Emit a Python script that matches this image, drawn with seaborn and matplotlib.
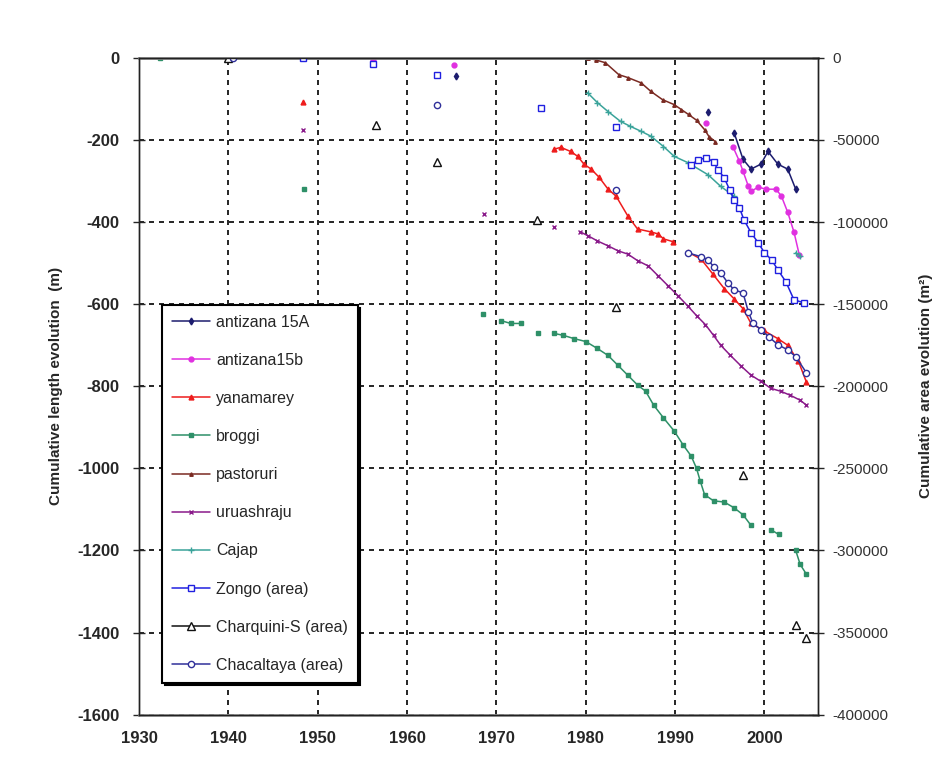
import numpy as np
import pandas as pd
import matplotlib.pyplot as plt
import seaborn as sns
from matplotlib.lines import Line2D
from matplotlib.ticker import FuncFormatter

nan = np.nan

# --- data (nan = gap in the series) ---
antizana15a_years = [1965.5, nan, 1993.7, nan, 1996.6, 1997.6, 1998.5, 1999.6, 2000.4, 2001.5, 2002.6, 2003.5]
antizana15a_vals = [-45, nan, -133, nan, -182, -247, -271, -259, -228, -259, -271, -320]

antizana15b_years = [1956.2, nan, 1965.2, nan, 1993.5, nan, 1996.5, 1997.2, 1997.6, 1998.2, 1998.5, 1999.3,
                     2000.2, 2001.3, 2001.9, 2002.6, 2003.3, 2003.9]
antizana15b_vals = [-5, nan, -17, nan, -158, nan, -218, -252, -276, -313, -325, -315,
                    -320, -320, -337, -376, -424, -480]

yanamarey_years = [1948.3, nan, 1976.4, 1977.2, 1978.3, 1979.1, 1979.8, 1980.6, 1981.5, 1982.5, 1983.4,
                   1984.7, 1985.8, 1987.3, 1988.1, 1988.7, 1989.8, nan, 1991.4, 1992.9, 1994.2, 1995.5,
                   1996.6, 1997.6, 1998.5, 1999.9, 2001.5, 2002.6, 2003.8, 2004.7]
yanamarey_vals = [-107, nan, -223, -218, -228, -240, -259, -271, -291, -320, -337,
                  -385, -417, -424, -429, -441, -448, nan, -473, -490, -526, -562,
                  -587, -611, -647, -664, -684, -700, -739, -790]

broggi_years = [1932.3, nan, 1948.5, nan, 1968.5, nan, 1970.5, 1971.6, 1972.7, nan, 1974.7, nan,
                1976.4, 1977.5, 1978.7, 1980.0, 1981.3, 1982.5, 1983.6, 1984.7, 1985.8, 1986.7,
                1987.6, 1988.7, 1989.9, 1990.9, 1991.8, 1992.4, 1992.8, 1993.3, 1994.3, 1995.5,
                1996.6, 1997.6, 1998.5, nan, 2000.7, 2001.6, nan, 2003.5, 2004.0, 2004.7]
broggi_vals = [0, nan, -320, nan, -623, nan, -640, -647, -647, nan, -671, nan,
               -671, -676, -684, -691, -708, -725, -749, -773, -797, -812,
               -846, -877, -909, -943, -970, -1000, -1030, -1064, -1079, -1082,
               -1096, -1113, -1139, nan, -1149, -1161, nan, -1200, -1234, -1258]

pastoruri_years = [1980.2, 1981.1, 1982.2, 1983.7, 1984.7, 1986.2, 1987.3, 1988.6, 1989.9, 1990.7,
                   1991.5, 1992.4, 1993.3, 1993.8, 1994.5]
pastoruri_vals = [0, -5, -12, -41, -48, -61, -82, -102, -114, -126, -138, -152, -175, -192, -204]

uruashraju_years = [1948.3, nan, 1968.6, nan, 1974.5, nan, 1976.4, nan, 1979.4, 1980.3, 1981.3, 1982.5,
                    1983.6, 1984.7, 1985.8, 1987.0, 1988.1, 1989.2, 1990.3, 1991.4, 1992.4, 1993.4,
                    1994.3, 1995.1, 1996.2, 1997.4, 1998.5, 1999.6, 2000.7, 2001.8, 2002.9, 2004.0, 2004.7]
uruashraju_vals = [-175, nan, -380, nan, -400, nan, -412, nan, -424, -434, -446, -458,
                   -470, -478, -494, -507, -531, -555, -579, -604, -628, -650,
                   -676, -700, -725, -751, -773, -788, -805, -812, -822, -834, -846]

cajap_years = [1980.2, 1981.3, 1982.5, 1983.9, 1985.0, 1986.2, 1987.3, 1988.7, 1989.9, 1991.4,
               1993.7, 1995.1, 1996.6, nan, 2003.5, 2004.0]
cajap_vals = [-85, -109, -131, -155, -167, -179, -191, -216, -240, -255,
              -285, -313, -337, nan, -475, -482]

zongo_years = [1948.3, nan, 1956.2, nan, 1963.4, nan, 1975.0, nan, 1983.4, nan, 1991.8, 1992.6,
               1993.5, 1994.3, 1994.8, 1995.5, 1996.1, 1996.6, 1997.2, 1997.7, 1998.5, 1999.3,
               2000.0, 2000.8, 2001.5, 2002.4, 2003.3, 2004.4]
zongo_vals = [0, nan, -4000, nan, -10300, nan, -30400, nan, -42000, nan, -65100, -62100,
              -60900, -63300, -68200, -73000, -80400, -86500, -91300, -98600, -106500, -112600,
              -118700, -123000, -129100, -136400, -147300, -149200]

charquini_years = [1940.0, nan, 1956.5, nan, 1963.4, nan, 1974.5, nan, 1983.4, nan, 1997.6, nan, 2003.5, nan, 2004.7]
charquini_vals = [0, nan, -40800, nan, -63300, nan, -98600, nan, -151600, nan, -253900, nan, -345200, nan, -353100]

chacaltaya_years = [1940.5, nan, 1963.4, nan, 1983.4, nan, 1991.4, 1992.9, 1993.7, 1994.3, 1995.1,
                    1995.9, 1996.6, 1997.6, 1998.2, 1998.7, 1999.6, 2000.5, 2001.5, 2002.6, 2003.5, 2004.7]
chacaltaya_vals = [0, nan, -28600, nan, -80400, nan, -118700, -121100, -123000, -127200, -130900,
                   -137000, -141300, -143100, -154700, -161400, -165600, -169900, -174700, -177800,
                   -182000, -191800]

x_ticks = [1930, 1940, 1950, 1960, 1970, 1980, 1990, 2000]
left_ticks = list(range(-1600, 1, 200))
right_ticks = list(range(-400000, 1, 50000))

# (label, years, values, axis, color, marker, markerfacecolor, markersize)
series = [
    ("antizana 15A", antizana15a_years, antizana15a_vals, "left", "#1c1c6e", "d", None, 3.5),
    ("antizana15b", antizana15b_years, antizana15b_vals, "left", "#e030e0", "o", None, 3.5),
    ("yanamarey", yanamarey_years, yanamarey_vals, "left", "#ee1c1c", "^", None, 3.5),
    ("broggi", broggi_years, broggi_vals, "left", "#2e9068", "s", None, 3.5),
    ("pastoruri", pastoruri_years, pastoruri_vals, "left", "#7a2a22", "^", None, 2.5),
    ("uruashraju", uruashraju_years, uruashraju_vals, "left", "#8a1a8a", "x", None, 3.5),
    ("Cajap", cajap_years, cajap_vals, "left", "#3aa39a", "+", None, 4.5),
    ("Zongo (area)", zongo_years, zongo_vals, "right", "#2020e0", "s", "white", 4.5),
    ("Charquini-S (area)", charquini_years, charquini_vals, "right", "#111111", "^", "white", 6),
    ("Chacaltaya (area)", chacaltaya_years, chacaltaya_vals, "right", "#30309a", "o", "white", 4.5),
]

sns.set_style("white")
plt.rcParams['font.family'] = ['Liberation Sans', 'DejaVu Sans']
plt.rcParams['axes.unicode_minus'] = False

fig, ax = plt.subplots(figsize=(9.36, 7.71), dpi=100)
fig.subplots_adjust(left=0.1485, right=0.874, top=0.925, bottom=0.073)
ax2 = ax.twinx()

handles = []
for label, yrs, vals, side, color, marker, mfc, ms in series:
    df = pd.DataFrame({"year": yrs, "value": vals})
    df["seg"] = df["value"].isna().cumsum()
    df = df.dropna()
    target = ax if side == "left" else ax2
    kw = dict(markerfacecolor=mfc if mfc else color, markeredgecolor=color,
              markersize=ms, markeredgewidth=1.0)
    sns.lineplot(data=df, x="year", y="value", units="seg", estimator=None, sort=False,
                 color=color, linewidth=1.1, marker=marker, legend=False, ax=target, **kw)
    handles.append(Line2D([], [], color=color, linewidth=1.1, marker=marker, label=label, **kw))

ax.set_xlim(1930, 2006)
ax.set_ylim(-1600, 0)
ax2.set_ylim(-400000, 0)
ax.set_xticks(x_ticks)
ax.set_yticks(left_ticks)
ax2.set_yticks(right_ticks)
ax2.yaxis.set_major_formatter(FuncFormatter(lambda v, p: f"{int(v)}"))

ax.grid(True, color="black", linestyle=(0, (3, 3)), linewidth=1.2)
ax.set_axisbelow(True)

for a in (ax, ax2):
    for s in a.spines.values():
        s.set_color("#222222")
        s.set_linewidth(1.0)
ax.spines["top"].set_color("#888888")
ax.spines["top"].set_linewidth(2.0)
ax.spines["bottom"].set_color("#999999")
ax.spines["bottom"].set_linewidth(2.0)

ax.tick_params(axis="y", direction="inout", length=8, width=1, pad=10, labelsize=12)
ax.tick_params(axis="x", direction="inout", length=0, pad=12, labelsize=12)
ax2.tick_params(axis="y", direction="inout", length=8, width=1, pad=6, labelsize=11,
                labelcolor="#333333")
for lab in ax.get_yticklabels() + ax.get_xticklabels():
    lab.set_fontweight("bold")

ax.set_xlabel("")
ax.set_ylabel("Cumulative length evolution  (m)", fontsize=11, fontweight="bold", labelpad=10)
ax2.set_ylabel("Cumulative area evolution (m²)", fontsize=11, fontweight="bold",
               rotation=90, labelpad=22)

leg = ax2.legend(handles=handles, loc="upper left", bbox_to_anchor=(0.022, 0.636),
                 frameon=True, fancybox=False, shadow={"color": "black", "alpha": 1.0},
                 edgecolor="black", framealpha=1.0, fontsize=11.5, labelspacing=1.45,
                 handlelength=2.4, handletextpad=0.4, borderpad=0.6)
leg.get_frame().set_linewidth(1.5)

fig.savefig("out.png", dpi=100, facecolor="white")
